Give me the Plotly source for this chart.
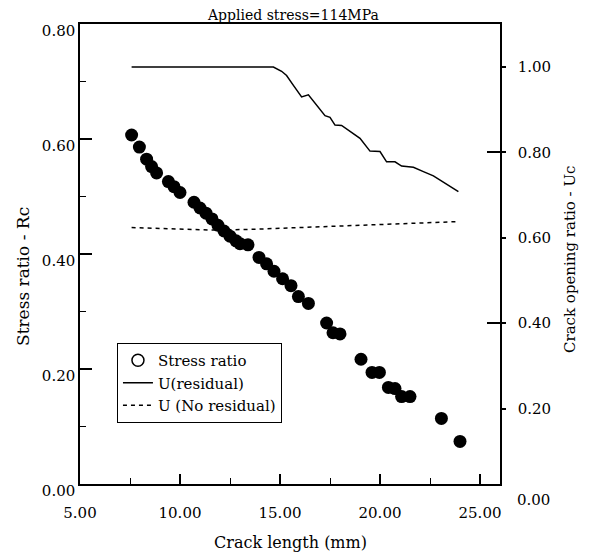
import plotly.graph_objects as go

# ---- data ----
crack_len_pts = [7.58, 7.97, 8.33, 8.58, 8.83, 9.42, 9.70, 10.0, 10.70, 11.0, 11.3, 11.6,
                 11.9, 12.2, 12.5, 12.8, 13.0, 13.4, 13.95, 14.33, 14.7, 15.13, 15.55,
                 15.92, 16.42, 17.33, 17.65, 18.0, 19.05, 19.6, 19.97, 20.42, 20.75,
                 21.08, 21.5, 23.07, 24.0]
stress_ratio = [0.607, 0.586, 0.565, 0.552, 0.541, 0.526, 0.517, 0.507, 0.490, 0.480,
                0.471, 0.461, 0.450, 0.440, 0.431, 0.423, 0.418, 0.416, 0.394, 0.383,
                0.370, 0.357, 0.345, 0.326, 0.314, 0.280, 0.263, 0.261, 0.217, 0.194,
                0.194, 0.168, 0.166, 0.152, 0.152, 0.114, 0.074]

u_res_x = [7.58, 14.67, 15.08, 15.33, 15.67, 16.08, 16.42, 16.75, 17.25, 17.5, 17.75,
           18.08, 18.42, 19.0, 19.5, 20.0, 20.33, 20.75, 21.08, 21.67, 22.17, 22.67, 23.92]
u_res = [1.00, 1.00, 0.99, 0.98, 0.957, 0.93, 0.935, 0.915, 0.886, 0.882, 0.864,
         0.863, 0.852, 0.833, 0.803, 0.802, 0.778, 0.778, 0.768, 0.765, 0.755, 0.745, 0.708]

u_nores_x = [7.58, 9.5, 11.67, 13.67, 15.5, 17.0, 20.33, 23.92]
u_nores = [0.624, 0.621, 0.618, 0.620, 0.623, 0.626, 0.632, 0.638]

x_ticks = [5, 10, 15, 20, 25]
x_minor = [7.5, 12.5, 17.5, 22.5]
y_ticks = [0.0, 0.2, 0.4, 0.6, 0.8]
y_minor = [0.1, 0.3, 0.5, 0.7]
y2_ticks = [0.2, 0.4, 0.6, 0.8, 1.0]
y2_inner = [0.4, 0.8]

FONT = "DejaVu Serif"

fig = go.Figure()

# legend-only entry (open circle as in the reference legend)
fig.add_trace(go.Scatter(x=[None], y=[None], mode="markers", name="Stress ratio",
                         marker=dict(symbol="circle-open", size=12, color="black",
                                     line=dict(width=1.5, color="black"))))
fig.add_trace(go.Scatter(x=crack_len_pts, y=stress_ratio, mode="markers",
                         name="Stress ratio", showlegend=False,
                         marker=dict(symbol="circle", size=13, color="black")))
fig.add_trace(go.Scatter(x=u_res_x, y=u_res, mode="lines", name="U(residual)",
                         yaxis="y2", line=dict(color="black", width=1.5)))
fig.add_trace(go.Scatter(x=u_nores_x, y=u_nores, mode="lines", name="U (No residual)",
                         yaxis="y2", line=dict(color="black", width=1.5, dash="4px,4px")))

fig.update_layout(
    width=582, height=548,
    margin=dict(l=72, r=90, t=16, b=72),
    paper_bgcolor="white", plot_bgcolor="white",
    font=dict(family=FONT, size=15, color="black"),
    showlegend=True,
    legend=dict(x=0.088, y=0.3065, xanchor="left", yanchor="top",
                bordercolor="black", borderwidth=1, bgcolor="white",
                font=dict(family=FONT, size=15), tracegroupgap=0),
    xaxis=dict(range=[5, 26], tickmode="array", tickvals=x_ticks,
               ticktext=[f"{v:.2f}" for v in x_ticks],
               ticks="inside", ticklen=10, tickwidth=1.5, tickcolor="black",
               minor=dict(tickmode="array", tickvals=x_minor, ticks="inside",
                          ticklen=6, tickwidth=1.2, tickcolor="black"),
               showline=True, linecolor="black", linewidth=1.5, mirror=True,
               showgrid=False, zeroline=False, ticklabelstandoff=14,
               tickfont=dict(family=FONT, size=15)),
    yaxis=dict(range=[0, 0.8], tickmode="array", tickvals=y_ticks,
               ticktext=[f"{v:.2f}" for v in y_ticks],
               ticks="inside", ticklen=12, tickwidth=1.5, tickcolor="black",
               minor=dict(tickmode="array", tickvals=y_minor, ticks="inside",
                          ticklen=6, tickwidth=1.2, tickcolor="black"),
               showline=True, linecolor="black", linewidth=1.5,
               showgrid=False, zeroline=False, ticklabelshift=7,
               tickfont=dict(family=FONT, size=15)),
    yaxis2=dict(range=[10 / 427, 470 / 427], overlaying="y", side="right",
                tickmode="array", tickvals=y2_ticks,
                ticktext=[f"{v:.2f}" for v in y2_ticks],
                ticks="outside", ticklen=4, tickwidth=1.5, tickcolor="black",
                minor=dict(tickmode="array", tickvals=y2_inner, ticks="inside",
                           ticklen=13, tickwidth=1.5, tickcolor="black"),
                showline=True, linecolor="black", linewidth=1.5,
                showgrid=False, zeroline=False, ticklabelstandoff=9,
                tickfont=dict(family=FONT, size=15)),
    annotations=[
        dict(text="Applied stress=114MPa", xref="paper", yref="paper", x=0.507, y=1.0196,
             xanchor="center", yanchor="middle", showarrow=False,
             font=dict(family=FONT, size=14)),
        dict(text="Crack length (mm)", xref="paper", yref="paper", x=0.5, y=-0.128,
             xanchor="center", yanchor="middle", showarrow=False,
             font=dict(family=FONT, size=16)),
        dict(text="Stress ratio - Rc", xref="paper", yref="paper", x=-0.1357, y=0.45,
             xanchor="center", yanchor="middle", showarrow=False, textangle=-90,
             font=dict(family=FONT, size=17)),
        dict(text="Crack opening ratio - Uc", xref="paper", yref="paper", x=1.1667, y=0.487,
             xanchor="center", yanchor="middle", showarrow=False, textangle=-90,
             font=dict(family=FONT, size=15)),
        dict(text="0.00", xref="paper", yref="paper", x=1.0357, y=-0.0348,
             xanchor="left", yanchor="middle", showarrow=False,
             font=dict(family=FONT, size=15)),
    ],
)

fig.write_html("out.html")
